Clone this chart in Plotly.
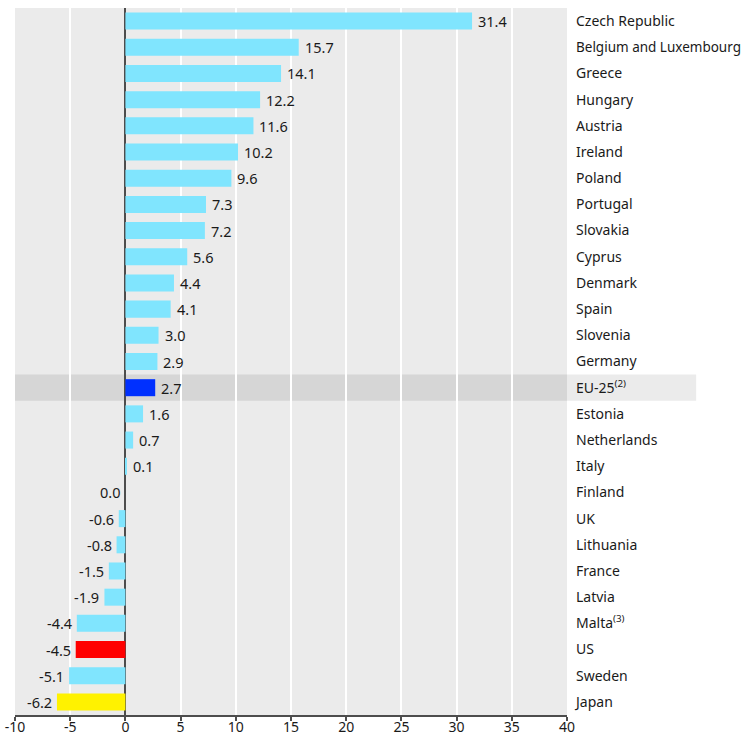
import plotly.graph_objects as go

# Change in values by country, top to bottom as drawn
countries = [
    "Czech Republic", "Belgium and Luxembourg", "Greece", "Hungary", "Austria",
    "Ireland", "Poland", "Portugal", "Slovakia", "Cyprus", "Denmark", "Spain",
    "Slovenia", "Germany", "EU-25<sup>(2)</sup>", "Estonia", "Netherlands", "Italy",
    "Finland", "UK", "Lithuania", "France", "Latvia", "Malta<sup>(3)</sup>", "US",
    "Sweden", "Japan",
]
values = [
    31.4, 15.7, 14.1, 12.2, 11.6, 10.2, 9.6, 7.3, 7.2, 5.6, 4.4, 4.1, 3.0, 2.9,
    2.7, 1.6, 0.7, 0.1, 0.0, -0.6, -0.8, -1.5, -1.9, -4.4, -4.5, -5.1, -6.2,
]
x_ticks = [-10, -5, 0, 5, 10, 15, 20, 25, 30, 35, 40]

BASE = "#80e5fe"
special = {"EU-25<sup>(2)</sup>": "#0030ff", "US": "#ff0000", "Japan": "#fff200"}
colors = [special.get(c, BASE) for c in countries]

FONT = "Noto Sans"

# the long label is set a little smaller so it fits beside the plot
tick_text = [
    '<span style="font-size:13.5px">%s</span>' % c if len(c) > 20 else c
    for c in countries
]

fig = go.Figure(
    go.Bar(
        x=values,
        y=countries,
        orientation="h",
        marker=dict(color=colors, line=dict(width=0)),
        width=0.65,
        hoverinfo="x+y",
    )
)

# Value labels next to each bar end
annotations = []
for c, v in zip(countries, values):
    pos = v > 0
    annotations.append(dict(
        x=v, y=c, xref="x", yref="y",
        text=f"{v:.1f}",
        showarrow=False,
        xanchor="left" if pos else "right",
        xshift=4 if pos else -3,
        font=dict(family=FONT, size=14.5, color="#1a1a1a"),
    ))

eu = "EU-25<sup>(2)</sup>"
eu_idx = countries.index(eu)
shapes = [
    # highlight band for the EU-25 row inside the plot area
    dict(type="rect", xref="x", yref="y", x0=-10, x1=40,
         y0=eu_idx - 0.5, y1=eu_idx + 0.5,
         fillcolor="#d6d6d6", line=dict(width=0), layer="below"),
    # lighter continuation behind the row label
    dict(type="rect", xref="paper", yref="y", x0=1.0, x1=1.234,
         y0=eu_idx - 0.5, y1=eu_idx + 0.5,
         fillcolor="#ebebeb", line=dict(width=0), layer="below"),
]

fig.update_layout(
    width=744, height=736,
    margin=dict(l=15, r=177, t=8, b=21, autoexpand=False),
    paper_bgcolor="white",
    plot_bgcolor="#ebebeb",
    showlegend=False,
    bargap=0.35,
    annotations=annotations,
    shapes=shapes,
    font=dict(family=FONT, size=14, color="#1a1a1a"),
)

fig.update_xaxes(
    range=[-10, 40],
    tickvals=x_ticks,
    ticktext=[str(t) for t in x_ticks],
    showgrid=True, gridcolor="white", gridwidth=2,
    zeroline=True, zerolinecolor="#4d4d4d", zerolinewidth=2,
    showline=True, linecolor="#4d4d4d", linewidth=2,
    ticks="outside", ticklen=4, tickwidth=2, tickcolor="#4d4d4d",
    ticklabelstandoff=-6,
    tickfont=dict(family=FONT, size=14, color="#1a1a1a"),
    automargin=False,
    fixedrange=True,
)
fig.update_yaxes(
    categoryorder="array",
    categoryarray=countries,
    tickvals=countries,
    ticktext=tick_text,
    range=[len(countries) - 0.5, -0.5],
    side="right",
    showgrid=False,
    ticks="",
    ticklabelstandoff=8,
    tickfont=dict(family=FONT, size=14, color="#1a1a1a"),
    automargin=False,
    fixedrange=True,
)

fig.write_html("out.html")
